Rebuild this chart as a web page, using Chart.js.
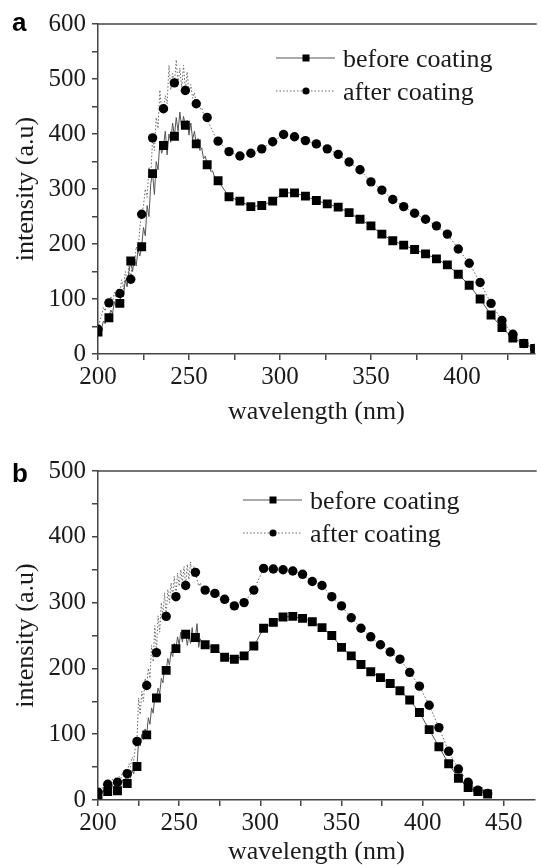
<!DOCTYPE html>
<html>
<head>
<meta charset="utf-8">
<script src="https://cdn.jsdelivr.net/npm/chart.js@4.4.1/dist/chart.umd.min.js"></script>
<style>
  html, body { margin: 0; padding: 0; background: #fff; overflow: hidden; }
  .panel { position: absolute; left: 0; width: 541px; }
</style>
</head>
<body>
<div class="panel" style="top:0;height:432px"><canvas id="chartA" width="541" height="432"></canvas></div>
<div class="panel" style="top:432px;height:438px"><canvas id="chartB" width="541" height="438"></canvas></div>
<script>
// wavelengths of the marked points (every 6 nm)
const markerNm = [200, 206, 212, 218, 224, 230, 236, 242, 248, 254,
  260, 266, 272, 278, 284, 290, 296, 302, 308, 314,
  320, 326, 332, 338, 344, 350, 356, 362, 368, 374,
  380, 386, 392, 398, 404, 410, 416, 422, 428, 434, 440];

// panel a
const aBefore = [40, 66, 92, 169, 195, 328, 379, 396, 416, 382,
  344, 315, 286, 278, 268, 270, 278, 293, 293, 287,
  279, 273, 267, 257, 245, 233, 218, 206, 198, 190,
  182, 173, 162, 145, 125, 100, 71, 48, 29, 19, 10];
const aAfter = [45, 93, 110, 136, 254, 393, 446, 493, 479, 455,
  430, 387, 368, 360, 365, 373, 386, 399, 395, 388,
  382, 373, 363, 349, 335, 313, 298, 281, 268, 256,
  245, 233, 218, 191, 165, 130, 92, 61, 36, 19, 10];

// panel b
const bBefore = [8, 13, 14, 25, 51, 99, 155, 197, 230, 252,
  247, 236, 230, 217, 214, 219, 234, 261, 270, 278,
  279, 276, 271, 262, 250, 232, 219, 206, 195, 186,
  177, 166, 152, 133, 107, 81, 55, 33, 19, 13, 9];
const bAfter = [12, 24, 27, 40, 89, 174, 224, 279, 309, 326,
  346, 319, 314, 305, 295, 300, 319, 352, 351, 350,
  348, 343, 332, 326, 309, 295, 277, 261, 248, 236,
  225, 214, 194, 173, 144, 110, 74, 47, 27, 15, 10];

// noisy raw trace, 1 nm steps, 200-266 nm
const rawNm = [200, 201, 202, 203, 204, 205, 206, 207, 208, 209,
  210, 211, 212, 213, 214, 215, 216, 217, 218, 219,
  220, 221, 222, 223, 224, 225, 226, 227, 228, 229,
  230, 231, 232, 233, 234, 235, 236, 237, 238, 239,
  240, 241, 242, 243, 244, 245, 246, 247, 248, 249,
  250, 251, 252, 253, 254, 255, 256, 257, 258, 259,
  260, 261, 262, 263, 264, 265, 266];
const aBeforeRaw = [40, 52, 47, 60, 55, 70, 66, 80, 74, 95,
  86, 100, 92, 115, 104, 135, 122, 150, 169, 150,
  175, 160, 190, 178, 195, 230, 215, 270, 250, 310,
  328, 290, 350, 335, 385, 365, 379, 405, 362, 400,
  385, 420, 396, 430, 405, 440, 410, 432, 416, 425,
  398, 420, 390, 405, 382, 392, 370, 375, 355, 360,
  344, 345, 332, 333, 322, 320, 315];
const aAfterRaw = [45, 60, 70, 85, 78, 98, 93, 105, 95, 112,
  102, 120, 110, 135, 118, 150, 130, 160, 136, 175,
  160, 195, 185, 230, 254, 270, 300, 285, 340, 320,
  393, 370, 430, 410, 480, 440, 446, 470, 455, 525,
  480, 510, 493, 535, 490, 520, 485, 525, 479, 513,
  475, 490, 465, 475, 455, 462, 445, 448, 435, 438,
  430, 420, 412, 405, 398, 392, 387];
const bBeforeRaw = [8, 10, 14, 12, 17, 15, 13, 20, 17, 22,
  18, 24, 14, 25, 22, 30, 26, 34, 25, 38,
  33, 45, 40, 52, 51, 90, 82, 100, 92, 108,
  99, 125, 115, 140, 132, 158, 155, 170, 162, 185,
  178, 200, 197, 215, 205, 225, 218, 238, 230, 248,
  236, 255, 240, 258, 252, 235, 250, 238, 262, 240,
  247, 268, 232, 245, 238, 240, 236];
const bAfterRaw = [12, 16, 20, 18, 25, 22, 24, 30, 26, 32,
  28, 35, 27, 36, 32, 42, 38, 48, 40, 55,
  50, 65, 60, 80, 89, 155, 130, 165, 150, 185,
  174, 200, 185, 235, 210, 265, 224, 280, 255, 300,
  280, 315, 279, 320, 300, 330, 310, 340, 309, 345,
  325, 350, 330, 355, 326, 358, 335, 362, 340, 355,
  346, 335, 325, 330, 318, 322, 319];

const seriesNames = ["before coating", "after coating"];

const aXTicks = [200, 225, 250, 275, 300, 325, 350, 375, 400, 425];
const bXTicks = [200, 225, 250, 275, 300, 325, 350, 375, 400, 425, 450];
const aYTicks = [0, 50, 100, 150, 200, 250, 300, 350, 400, 450, 500, 550, 600];
const bYTicks = [0, 50, 100, 150, 200, 250, 300, 350, 400, 450, 500];

const axisColor = "#444";
const textColor = "#1a1a1a";
const lineColors = ["#555", "#666"];
const serif = "'Liberation Serif', 'DejaVu Serif', serif";

// raw trace up to 266 nm, then the marked points
function lineData(raw, marks) {
  const pts = rawNm.map((x, i) => ({ x: x, y: raw[i] }));
  const last = rawNm[rawNm.length - 1];
  markerNm.forEach((x, i) => {
    if (x > last) pts.push({ x: x, y: marks[i] });
  });
  return pts;
}

function markData(marks) {
  return markerNm.map((x, i) => ({ x: x, y: marks[i] }));
}

///////////////////////////////
// legend, top frame line, panel letter
///////////////////////////////

const panelDecor = {
  id: "panelDecor",
  afterDraw(chart, args, o) {
    const ctx = chart.ctx;
    ctx.save();
    seriesNames.forEach((name, i) => {
      const y = o.y + i * o.gap;
      ctx.strokeStyle = lineColors[i];
      ctx.lineWidth = 1;
      ctx.setLineDash(i ? [1.5, 2] : []);
      ctx.beginPath();
      ctx.moveTo(o.x, y);
      ctx.lineTo(o.x + 59, y);
      ctx.stroke();
      ctx.setLineDash([]);
      ctx.fillStyle = "#000";
      const mx = o.x + 30;
      if (i === 0) {
        ctx.fillRect(mx - 3.5, y - 3.5, 7, 7);
      } else {
        ctx.beginPath();
        ctx.arc(mx, y, 3.6, 0, Math.PI * 2);
        ctx.fill();
      }
      ctx.fillStyle = textColor;
      ctx.font = "26px " + serif;
      ctx.textBaseline = "alphabetic";
      ctx.fillText(name, o.x + 67, y + 8.5);
    });

    const { left, right, top } = chart.chartArea;
    ctx.strokeStyle = axisColor;
    ctx.lineWidth = 1.5;
    ctx.beginPath();
    ctx.moveTo(left, top);
    ctx.lineTo(right + 2, top);
    ctx.stroke();

    ctx.fillStyle = "#000";
    ctx.font = "bold 26px 'Liberation Sans', Arial, sans-serif";
    ctx.fillText(o.letter, 12, o.letterY);
    ctx.restore();
  }
};

function makeChart(id, p) {
  const ctx = document.getElementById(id).getContext("2d");
  return new Chart(ctx, {
    type: "scatter",
    data: {
      datasets: [
        {
          label: seriesNames[0],
          data: markData(p.before),
          pointStyle: "rect",
          pointRadius: 6.3,
          pointBackgroundColor: "#000",
          pointBorderWidth: 0,
          showLine: false,
          order: 0
        },
        {
          label: seriesNames[1],
          data: markData(p.after),
          pointStyle: "circle",
          pointRadius: 4.7,
          pointBackgroundColor: "#000",
          pointBorderWidth: 0,
          showLine: false,
          order: 0
        },
        {
          data: lineData(p.beforeRaw, p.before),
          showLine: true,
          pointRadius: 0,
          borderColor: lineColors[0],
          borderWidth: 1,
          order: 1
        },
        {
          data: lineData(p.afterRaw, p.after),
          showLine: true,
          pointRadius: 0,
          borderColor: lineColors[1],
          borderWidth: 1,
          borderDash: [1.5, 2],
          order: 1
        }
      ]
    },
    options: {
      responsive: false,
      animation: false,
      devicePixelRatio: 1,
      layout: { padding: { left: 0, right: 0, top: p.padTop, bottom: 0 } },
      plugins: {
        legend: { display: false },
        tooltip: { enabled: false },
        panelDecor: p.decor
      },
      scales: {
        x: {
          type: "linear",
          min: 200,
          max: p.xMax,
          afterBuildTicks: (scale) => {
            scale.ticks = p.xTicks.map(v => ({ value: v }));
          },
          afterFit: (scale) => { scale.height = p.xHeight; },
          ticks: {
            autoSkip: false,
            maxRotation: 0,
            padding: 2,
            color: textColor,
            font: { family: serif, size: 25 },
            callback: (v) => (v % 50 === 0 ? v : "")
          },
          grid: { drawOnChartArea: false, drawTicks: true, tickLength: 6, color: axisColor, lineWidth: 1.5 },
          border: { display: true, color: axisColor, width: 1.5 },
          title: {
            display: true,
            text: "wavelength (nm)",
            color: textColor,
            font: { family: serif, size: 26 },
            padding: { top: 0, bottom: p.xTitlePad }
          }
        },
        y: {
          min: 0,
          max: p.yMax,
          afterBuildTicks: (scale) => {
            scale.ticks = p.yTicks.map(v => ({ value: v }));
          },
          afterFit: (scale) => { scale.width = 98; },
          ticks: {
            autoSkip: false,
            padding: 6,
            color: textColor,
            font: { family: serif, size: 25 },
            callback: (v) => (v % 100 === 0 ? v : "")
          },
          grid: { drawOnChartArea: false, drawTicks: true, tickLength: 6, color: axisColor, lineWidth: 1.5 },
          border: { display: true, color: axisColor, width: 1.5 },
          title: {
            display: true,
            text: "intensity (a.u)",
            color: textColor,
            font: { family: serif, size: 26 },
            padding: { top: 11, bottom: 0 }
          }
        }
      }
    },
    plugins: [panelDecor]
  });
}

makeChart("chartA", {
  before: aBefore, after: aAfter, beforeRaw: aBeforeRaw, afterRaw: aAfterRaw,
  xMax: 440, yMax: 600, xTicks: aXTicks, yTicks: aYTicks,
  padTop: 24, xHeight: 78, xTitlePad: 4,
  decor: { x: 276, y: 58, gap: 33, letter: "a", letterY: 30.5 }
});

makeChart("chartB", {
  before: bBefore, after: bAfter, beforeRaw: bBeforeRaw, afterRaw: bAfterRaw,
  xMax: 469, yMax: 500, xTicks: bXTicks, yTicks: bYTicks,
  padTop: 39, xHeight: 70, xTitlePad: 2,
  decor: { x: 243, y: 68, gap: 33, letter: "b", letterY: 49.5 }
});
</script>
</body>
</html>
